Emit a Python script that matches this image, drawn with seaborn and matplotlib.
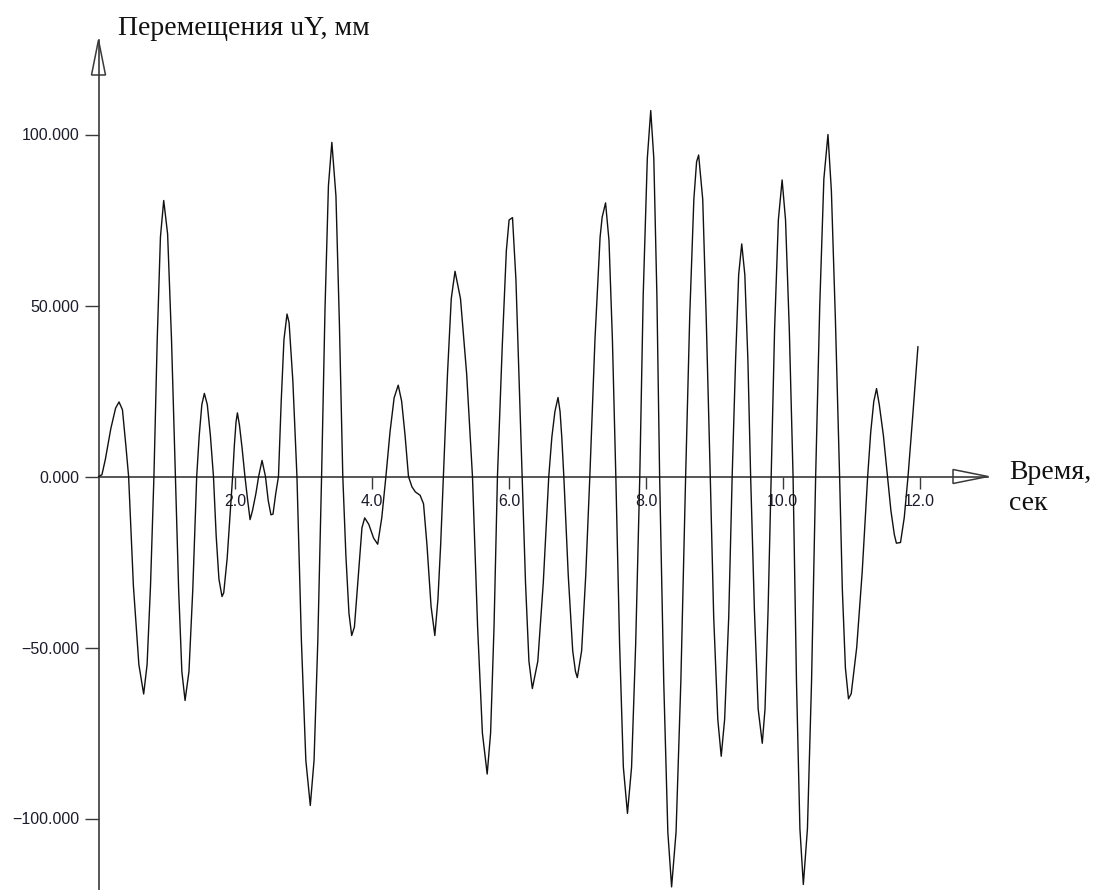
import matplotlib
matplotlib.use("Agg")
import matplotlib.pyplot as plt
import pandas as pd
import seaborn as sns
from matplotlib.patches import Polygon

# ---- data ----
time_s = [
    0.00, 0.05, 0.10, 0.18, 0.25, 0.30, 0.35, 0.40, 0.44, 0.51, 0.59, 0.66, 0.71, 0.76, 0.81,
    0.858, 0.905, 0.953, 1.01, 1.067, 1.124, 1.171, 1.218, 1.265, 1.322, 1.378, 1.435,
    1.472, 1.51, 1.547, 1.59, 1.635, 1.68, 1.72, 1.76, 1.805, 1.83, 1.88, 1.92, 1.96,
    1.985, 2.01, 2.03, 2.06, 2.10, 2.14, 2.18, 2.215, 2.25, 2.30, 2.34, 2.39, 2.44, 2.48,
    2.52, 2.55, 2.59, 2.63, 2.67, 2.71, 2.755, 2.785, 2.84, 2.90, 2.965, 3.03, 3.095, 3.15,
    3.205, 3.26, 3.31, 3.36, 3.41, 3.47, 3.52, 3.57, 3.615, 3.66, 3.70, 3.74, 3.80, 3.85,
    3.89, 3.95, 4.02, 4.08, 4.14, 4.20, 4.26, 4.32, 4.38, 4.43, 4.48, 4.53, 4.58, 4.63,
    4.70, 4.75, 4.80, 4.86, 4.915, 4.96, 5.00, 5.04, 5.10, 5.155, 5.21, 5.29, 5.38, 5.465,
    5.54, 5.61, 5.68, 5.73, 5.78, 5.83, 5.90, 5.96, 6.00, 6.05, 6.10, 6.19, 6.24, 6.29,
    6.34, 6.42, 6.50, 6.58, 6.625, 6.67, 6.715, 6.745, 6.77, 6.80, 6.865, 6.93, 6.97, 6.997,
    7.06, 7.12, 7.18, 7.255, 7.33, 7.36, 7.41, 7.46, 7.51, 7.56, 7.615, 7.67, 7.73, 7.79,
    7.85, 7.91, 7.96, 8.02, 8.07, 8.115, 8.16, 8.20, 8.26, 8.32, 8.375, 8.44, 8.51, 8.58,
    8.64, 8.70, 8.74, 8.77, 8.83, 8.88, 8.94, 8.99, 9.05, 9.10, 9.15, 9.21, 9.26, 9.31,
    9.355, 9.40, 9.445, 9.49, 9.53, 9.585, 9.64, 9.70, 9.74, 9.785, 9.83, 9.88, 9.935, 9.99,
    10.04, 10.095, 10.15, 10.20, 10.25, 10.30, 10.36, 10.42, 10.48, 10.54, 10.60, 10.66,
    10.71, 10.77, 10.83, 10.87, 10.915, 10.96, 11.00, 11.08, 11.16, 11.24, 11.285, 11.33,
    11.37, 11.41, 11.47, 11.53, 11.58, 11.63, 11.66, 11.72, 11.775, 11.83, 11.90, 11.975,
]
disp_uy_mm = [
    0, 0.5, 5, 14, 20, 21.8, 19.5, 9, 0, -32, -55, -63.6, -55, -32, 0,
    40, 70, 80.7, 70.9, 40, 0, -33, -57, -65.5, -57, -33, 0,
    12, 21, 24.3, 21, 12, 0, -17.5, -30, -35.1, -34, -24, -12, 0,
    9, 16, 18.6, 15, 8, 0, -7, -12.6, -10, -5, 0, 4.7, 0, -7,
    -11.2, -11, -5, 0, 22, 40, 47.5, 45, 28, 0, -48, -83, -96.2, -83,
    -48, 0, 49, 85, 97.7, 82, 45, 0, -23, -40, -46.5, -44, -28, -15,
    -12.1, -14, -18, -19.8, -12, 0, 13, 23, 26.7, 22, 12, 0, -3, -4.5,
    -5.5, -8, -20, -38, -46.5, -36, -20, 0, 30, 52, 60, 52, 30, 0,
    -44, -75, -87, -75, -44, 0, 38, 66, 75, 75.7, 57.6, 0, -31, -54,
    -62, -54, -31, 0, 11.5, 19, 23.1, 19, 11.5, 0, -29, -51, -57, -58.8,
    -51, -29, 0, 40, 70, 75.8, 80, 69, 40, 0, -49, -85, -98.5, -85,
    -49, 0, 53, 93, 107, 93, 53, 0, -60, -104, -120, -104, -60, 0,
    47, 81, 92, 94, 81, 47, 0, -41, -71, -81.8, -71, -41, 0, 34,
    59, 68, 59, 34, 0, -39, -68, -78, -68, -39, 0, 43, 75, 86.7,
    75, 43, 0, -60, -103, -119.3, -103, -60, 0, 50, 87, 100,
    83.5, 45, 0, -33, -56, -65, -63.5, -50, -28, 0, 13, 22,
    25.7, 21, 12, 0, -10, -17, -19.5, -19.3, -12, 0, 18, 38,
]
x_ticks = [2.0, 4.0, 6.0, 8.0, 10.0, 12.0]
x_tick_labels = ["2.0", "4.0", "6.0", "8.0", "10.0", "12.0"]
y_ticks = [-100, -50, 0, 50, 100]
y_tick_labels = ["\u2212100.000", "\u221250.000", "0.000", "50.000", "100.000"]
y_title = "Перемещения uY, мм"
x_title_1 = "Время,"
x_title_2 = "сек"

sns.set_theme(style="white")
plt.rcParams["font.family"] = ["Liberation Sans", "DejaVu Sans"]

W, H = 1098, 890
fig = plt.figure(figsize=(W / 100, H / 100), dpi=100)
fig.patch.set_facecolor("white")
ax = fig.add_axes([0, 0, 1, 1])
ax.set_facecolor("white")

df = pd.DataFrame({"t": time_s, "u": disp_uy_mm})
sns.lineplot(data=df, x="t", y="u", ax=ax, color="#111111", linewidth=1.0,
             estimator=None, sort=False, zorder=3)

# pixel mapping of the reference
X0, SX = 98.5, 68.43   # px of t=0, px per second
Y0, SY = 476.5, 3.42   # px of u=0, px per mm
ax.set_xlim(-X0 / SX, (W - X0) / SX)
ax.set_ylim((Y0 - H) / SY, Y0 / SY)
ax.set_xlabel("")
ax.set_ylabel("")
ax.grid(False)

axis_color = "#3a3a3a"
for s in ["top", "right"]:
    ax.spines[s].set_visible(False)
for s in ["left", "bottom"]:
    ax.spines[s].set_position(("data", 0))
    ax.spines[s].set_color(axis_color)
    ax.spines[s].set_linewidth(1.2)
    ax.spines[s].set_zorder(2)

x_tip = (988 - X0) / SX
y_tip = (Y0 - 40) / SY
ax.spines["left"].set_bounds((Y0 - H - 10) / SY, y_tip)
ax.spines["bottom"].set_bounds(0, x_tip)

ax.set_xticks(x_ticks)
ax.set_xticklabels(x_tick_labels)
ax.set_yticks(y_ticks)
ax.set_yticklabels(y_tick_labels)
ax.tick_params(axis="x", bottom=True, direction="out", length=8.6, width=1.0,
               pad=4, labelsize=11.5, colors=axis_color, labelcolor="#1c1c2a")
ax.tick_params(axis="y", left=True, direction="out", length=10, width=1.0,
               pad=4, labelsize=11.5, colors=axis_color, labelcolor="#1c1c2a")

# hollow arrow heads on the axes
base_y = (Y0 - 75) / SY
ax.add_patch(Polygon([(0, y_tip), (-7 / SX, base_y), (7 / SX, base_y)], closed=True,
                     fill=False, edgecolor=axis_color, linewidth=1.1, zorder=4,
                     clip_on=False))
base_x = (953 - X0) / SX
ax.add_patch(Polygon([(x_tip, 0), (base_x, 7 / SY), (base_x, -7 / SY)], closed=True,
                     fill=False, edgecolor=axis_color, linewidth=1.1, zorder=4,
                     clip_on=False))

serif = ["Liberation Serif", "DejaVu Serif"]
fig.text(117.5 / W, 1 - 35 / H, y_title, family=serif, fontsize=20,
         ha="left", va="baseline", color="#111111")
fig.text(1009 / W, 1 - 479 / H, x_title_1, family=serif, fontsize=20,
         ha="left", va="baseline", color="#111111")
fig.text(1009 / W, 1 - 510 / H, x_title_2, family=serif, fontsize=20,
         ha="left", va="baseline", color="#111111")

fig.savefig("out.png", dpi=100, facecolor="white")
